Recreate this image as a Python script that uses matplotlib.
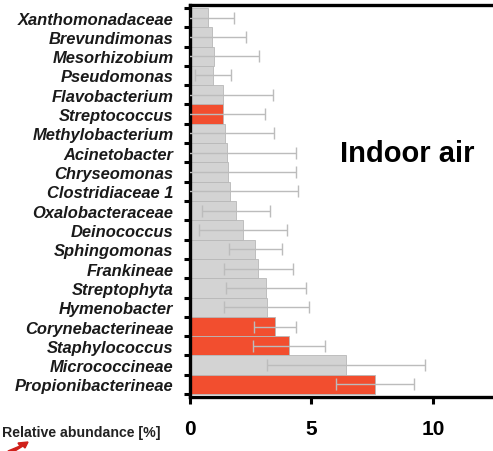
import matplotlib.pyplot as plt
import numpy as np

taxa = ['Xanthomonadaceae', 'Brevundimonas', 'Mesorhizobium', 'Pseudomonas',
        'Flavobacterium', 'Streptococcus', 'Methylobacterium', 'Acinetobacter',
        'Chryseomonas', 'Clostridiaceae 1', 'Oxalobacteraceae', 'Deinococcus',
        'Sphingomonas', 'Frankineae', 'Streptophyta', 'Hymenobacter',
        'Corynebacterineae', 'Staphylococcus', 'Micrococcineae', 'Propionibacterineae']
abundance = [0.75, 0.9, 0.97, 0.95, 1.37, 1.37, 1.43, 1.51, 1.58, 1.65,
             1.89, 2.18, 2.69, 2.81, 3.13, 3.16, 3.51, 4.07, 6.42, 7.6]
err = [1.05, 1.4, 1.86, 0.75, 2.03, 1.73, 2.03, 2.85, 2.78, 2.81,
       1.4, 1.83, 1.1, 1.42, 1.63, 1.75, 0.86, 1.47, 3.25, 1.6]
highlight = [False, False, False, False, False, True, False, False, False, False,
             False, False, False, False, False, False, True, True, False, True]

grey = '#d3d3d3'
red = '#f24e2f'
colours = [red if h else grey for h in highlight]

fig = plt.figure(figsize=(4.93, 4.52), dpi=100)
ax = fig.add_axes([190/493, 1-398/452, 1-190/493, 392/452])

ypos = np.arange(len(taxa))
ax.barh(ypos, abundance, height=1.0, color=colours, edgecolor='#b8b8b8', linewidth=0.6, zorder=2)
ax.errorbar(abundance, ypos, xerr=err, fmt='none', ecolor='#bcbcbc', elinewidth=1.0,
            capsize=4, capthick=1.0, zorder=3)

ax.set_xlim(0, 12.47)
ax.set_ylim(len(taxa) - 0.35, -0.65)

ax.set_yticks(ypos)
ax.set_yticklabels(taxa, fontfamily='Liberation Sans', fontweight='bold', fontstyle='italic',
                   fontsize=11.9, color='#1a1a1a')
ax.tick_params(axis='y', which='major', length=0, pad=12)
ax.set_yticks(np.arange(-0.5, len(taxa), 1.0), minor=True)
ax.tick_params(axis='y', which='minor', length=4, width=2.2, direction='out')

ax.set_xticks([0, 5, 10])
ax.set_xticklabels(['0', '5', '10'], fontfamily='Liberation Sans', fontweight='bold', fontsize=15)
ax.tick_params(axis='x', length=5, width=2.2, pad=11)

for s in ['left', 'top', 'bottom']:
    ax.spines[s].set_linewidth(2.4)
ax.spines['right'].set_visible(False)

fig.text(407/493, 1-154/452, 'Indoor air', fontfamily='Liberation Sans', fontweight='bold',
         fontsize=21, ha='center', va='center')
fig.text(2/493, 1-433/452, 'Relative abundance [%]', fontfamily='Liberation Sans',
         fontweight='bold', fontsize=10.2, ha='left', va='center', color='#222222')
fig.patches.append(plt.Polygon([[8/493, 1-452/452], [20/493, 1-447/452], [18/493, 1-444/452],
                                [28/493, 1-443/452], [25/493, 1-449/452], [23/493, 1-447/452],
                                [10/493, 1-455/452]], closed=True, color='#d0201a',
                               transform=fig.transFigure, figure=fig))

fig.savefig('out.png', dpi=100)
